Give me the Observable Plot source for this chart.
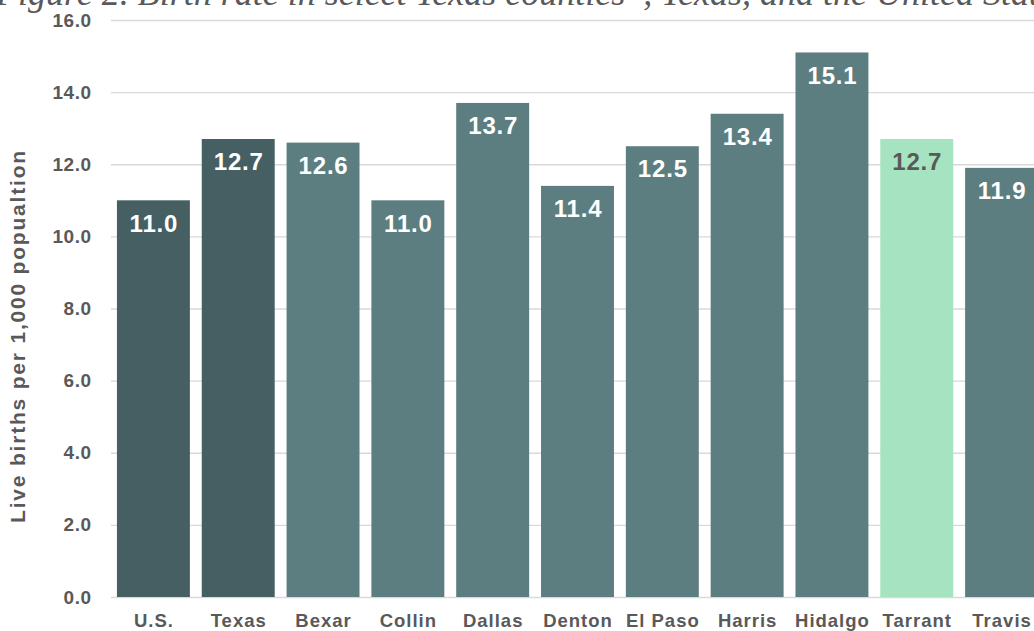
<!DOCTYPE html>
<html>
<head>
<meta charset="utf-8">
<script src="https://cdn.jsdelivr.net/npm/d3@7"></script>
<script src="https://cdn.jsdelivr.net/npm/@observablehq/plot@0.6"></script>
<style>
  html, body { margin: 0; padding: 0; background: #fff; overflow: hidden; width: 1034px; height: 631px; }
  #wrap { position: relative; width: 1034px; height: 631px; overflow: hidden; }
  #title { position: absolute; left: -4px; top: -25px; line-height: 36px; white-space: nowrap; font-family: "Liberation Serif", serif; font-style: italic; font-size: 36px; color: #595959; }
  #ylab { position: absolute; left: 18px; top: 336px; transform: translate(-50%, -50%) rotate(-90deg); white-space: nowrap; font-family: "Liberation Sans", Arial, sans-serif; font-weight: bold; font-size: 21px; letter-spacing: 1.8px; color: #595959; }
  #chart { position: absolute; left: 0; top: 0; }
  #chart svg { max-width: none !important; }
  #chart svg g[aria-label="x-axis tick label"] text { letter-spacing: 1px; }
  #chart svg g[aria-label="y-axis tick label"] text { letter-spacing: 0.5px; }
  #chart svg g[aria-label="text"] text { letter-spacing: 0.8px; }
</style>
</head>
<body>
<div id="wrap">
  <div id="chart"></div>
  <div id="title">Figure 2. Birth rate in select Texas counties*, Texas, and the United States</div>
  <div id="ylab">Live births per 1,000 popualtion</div>
</div>
<script>
const categories = ["U.S.", "Texas", "Bexar", "Collin", "Dallas", "Denton", "El Paso", "Harris", "Hidalgo", "Tarrant", "Travis"];
const rates = [11.0, 12.7, 12.6, 11.0, 13.7, 11.4, 12.5, 13.4, 15.1, 12.7, 11.9];
const groups = ["national", "state", "county", "county", "county", "county", "county", "county", "county", "highlight", "county"];
const yTicks = [0, 2, 4, 6, 8, 10, 12, 14, 16];

const data = categories.map((c, i) => ({ name: c, value: rates[i], group: groups[i] }));

const fillColors = { national: "#465f62", state: "#465f62", county: "#5c7e81", highlight: "#a6e3c0" };
const labelColors = { national: "#ffffff", state: "#ffffff", county: "#ffffff", highlight: "#595959" };

const chart = Plot.plot({
  width: 1050,
  height: 631,
  marginTop: 20,
  marginBottom: 34,
  marginLeft: 111,
  marginRight: 6,
  style: { fontFamily: "'Liberation Sans', Arial, sans-serif", color: "#595959", background: "transparent", maxWidth: "none" },
  x: { domain: categories, paddingInner: 0.14, paddingOuter: 0.07, round: false, label: null },
  y: { domain: [0, 16], label: null },
  marks: [
    Plot.ruleY(yTicks, { stroke: "#d9d9d9", strokeWidth: 1.3 }),
    Plot.barY(data, { x: "name", y: "value", fill: d => fillColors[d.group] }),
    Plot.text(data, { x: "name", y: "value", text: d => d.value.toFixed(1), dy: 23, fill: d => labelColors[d.group], fontSize: 24, fontWeight: "bold", lineAnchor: "middle" }),
    Plot.axisY(yTicks, { tickSize: 0, tickPadding: 20, tickFormat: d => d.toFixed(1), fontSize: 19, fontWeight: "bold", fill: "#595959", label: null }),
    Plot.axisX({ tickSize: 0, tickPadding: 16, fontSize: 18.5, fontWeight: "bold", fill: "#595959", label: null })
  ]
});
document.getElementById("chart").appendChild(chart);
</script>
</body>
</html>
